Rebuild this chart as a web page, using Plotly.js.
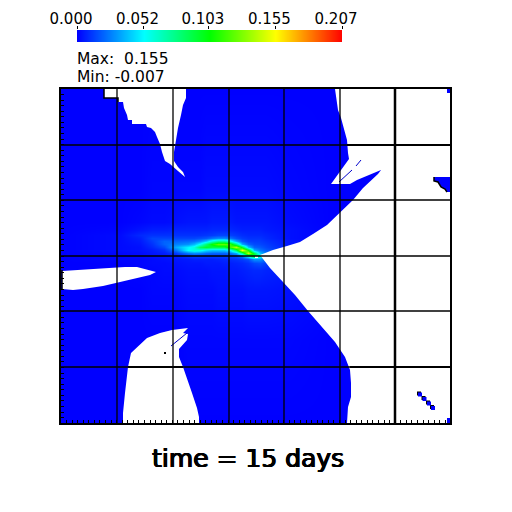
<!DOCTYPE html>
<html>
<head>
<meta charset="utf-8">
<script src="https://cdn.plot.ly/plotly-3.0.1.min.js"></script>
<style>html,body{margin:0;padding:0;background:#fff}</style>
</head>
<body>
<div id="chart" style="width:512px;height:512px"></div>
<script>
// field samples, axis units are picture pixels (no labels on the axes anyway)
const gridX = [61,120,140,152,164,176,188,194,200,206,212,218,224,230,236,242,248,254,260,266,290,330,450];
const gridY = [89,190,222,230,235,238,241,244,247,250,253,256,259,263,270,290,340,423];
const field = [
  [0,0,0,0,0,0,0,0,0,0,0,0,0,0,0,0,0,0,0,0,0,0,0],
  [0,0,0,.001,.001,.001,.001,.001,.001,.002,.002,.002,.002,.002,.002,.002,.002,.002,.002,.002,.001,0,0],
  [0,0,.001,.002,.002,.003,.004,.004,.004,.004,.005,.005,.005,.005,.004,.004,.004,.004,.004,.004,.002,0,0],
  [0,.001,.004,.006,.006,.007,.007,.007,.007,.007,.008,.008,.008,.008,.007,.006,.006,.006,.006,.005,.003,0,0],
  [0,.002,.008,.01,.01,.01,.01,.01,.01,.011,.012,.014,.014,.013,.011,.009,.008,.008,.008,.007,.003,0,0],
  [0,.002,.006,.014,.014,.014,.014,.014,.016,.018,.024,.028,.028,.024,.016,.012,.01,.01,.01,.008,.003,0,0],
  [0,.002,.005,.012,.02,.02,.022,.024,.03,.042,.062,.075,.075,.058,.035,.018,.013,.012,.012,.01,.004,0,0],
  [0,.002,.004,.01,.02,.026,.03,.038,.055,.08,.105,.122,.122,.115,.08,.035,.02,.015,.014,.012,.004,0,0],
  [0,.002,.003,.008,.015,.035,.05,.058,.085,.095,.09,.09,.09,.115,.14,.095,.04,.02,.018,.014,.005,0,0],
  [0,.002,.003,.005,.009,.024,.052,.058,.055,.045,.04,.04,.04,.05,.085,.155,.105,.036,.024,.018,.006,.001,0],
  [0,.001,.002,.004,.006,.012,.024,.028,.026,.022,.02,.02,.02,.024,.034,.075,.145,.09,.04,.024,.007,.001,0],
  [0,.001,.002,.003,.004,.006,.01,.012,.012,.012,.012,.012,.012,.014,.016,.024,.055,.1,.06,.03,.008,.001,0],
  [0,.001,.001,.002,.003,.004,.005,.006,.006,.006,.006,.007,.008,.009,.01,.012,.016,.03,.03,.02,.007,.001,0],
  [0,0,.001,.002,.002,.003,.004,.004,.004,.005,.005,.005,.006,.006,.007,.008,.01,.014,.016,.012,.006,.001,0],
  [0,0,.001,.001,.002,.002,.003,.003,.003,.003,.004,.004,.004,.005,.005,.006,.007,.008,.008,.007,.005,.001,0],
  [0,0,0,.001,.001,.001,.002,.002,.002,.002,.002,.003,.003,.003,.003,.003,.004,.004,.004,.004,.003,.001,0],
  [0,0,0,0,0,0,.001,.001,.001,.001,.001,.001,.001,.001,.001,.001,.001,.001,.001,.001,.001,0,0],
  [0,0,0,0,0,0,0,0,0,0,0,0,0,0,0,0,0,0,0,0,0,0,0]
];

// regions with no data, left white
const notchX = [104,104,118,118,123,124,127,128,132,132,146,147,151,155,157,160,162,165,170,173,178,185,183,178,174,174,176,178,181,183,186,186];
const notchY = [89,98,98,102,102,108,115,120,120,124,124,127,128,132,137,144,152,161,164,167,171,177,172,167,161,152,140,128,115,105,98,89];
const rightX = [335,336,338,341,344,347,348,349,331,339,350,357,367,381,378,372,363,353,340,327,313,300,287,273,260,270,283,295,308,322,335,345,350,351,351,348,347,450,450];
const rightY = [89,98,110,118,128,140,153,159,184,184,184,180,176,170,174,180,188,200,212,225,234,242,246,250,255,268,282,295,311,327,342,357,370,383,397,407,423,423,89];
const lensX = [62,77,97,117,125,137,150,156,150,137,118,103,83,73,62];
const lensY = [271,270,269,267,267,267,270,272,275,278,282,286,289,290,289];
const birdX = [123,123,125,128,131,137,147,160,172,188,183,188,187,179,179,183,187,192,197,199,199];
const birdY = [423,413,393,367,353,347,338,333,330,328,333,334,340,349,357,367,378,393,408,417,423];
const speckX = [255,258,258,255];
const speckY = [256,256,258,258];
const holes = [[notchX,notchY],[rightX,rightY],[lensX,lensY],[birdX,birdY],[speckX,speckY]];

// small bits of data inside the empty part
const islandCornerX = [447,450,450,447];
const islandCornerY = [89,89,93,93];
const islandTriX = [434,450,450,447,445,441,438,434];
const islandTriY = [177,177,192,192,189,187,182,181];
const islandLowX = [447,450,450,447];
const islandLowY = [418,418,423,423];
const islands = [[islandCornerX,islandCornerY],[islandTriX,islandTriY],[islandLowX,islandLowY]];
const diagX = [420,424.5,429,433];
const diagY = [394.5,399,403.5,408];
const diagEdgeX = [419,423.5,428,432];
const diagEdgeY = [393.5,398,402.5,407];
const sliverAX = [339,352];
const sliverAY = [182,170];
const sliverBX = [356,361];
const sliverBY = [166,160];
const sliverCX = [171,187];
const sliverCY = [346,333];
const dotX = [165];
const dotY = [353];

// dark mesh edges along parts of the empty regions
const edgeNotchX = [104,104,118,118];
const edgeNotchY = [89,98,98,102];
const edgeLensX = [62,62];
const edgeLensY = [270,290];
const edgeTriX = [434,434,438,441,445,447];
const edgeTriY = [177,181,182,187,189,192];
const edges = [[edgeNotchX,edgeNotchY],[edgeLensX,edgeLensY],[edgeTriX,edgeTriY]];

const colLines = [117,173,229,284,340,395];
const rowLines = [145,200,256,311,367];
const thickCols = [395];
const heavyRows = [[145,160,175],[145,347,450],[367,128,183],[367,350,450]];

const barTicks = [0,0.052,0.103,0.155,0.207];
const barLabels = ['0.000','0.052','0.103','0.155','0.207'];
const barLevels = [0,1];

const rainbow = [[0,'#0000ff'],[0.25,'#00ffff'],[0.5,'#00ff00'],[0.75,'#ffff00'],[1,'#ff0000']];

const traces = [{
  type: 'heatmap', x: gridX, y: gridY, z: field, zsmooth: 'best', zmin: 0, zmax: 0.207,
  hoverinfo: 'skip', colorscale: rainbow, showscale: false
}, {
  type: 'heatmap', x: barTicks, y: barLevels, z: [barTicks, barTicks], zsmooth: 'best', zmin: 0, zmax: 0.207,
  xaxis: 'x2', yaxis: 'y2', hoverinfo: 'skip', colorscale: rainbow, showscale: false
}];
holes.forEach(h => traces.push({
  type: 'scatter', mode: 'lines', x: h[0], y: h[1], fill: 'toself', fillcolor: '#fff',
  line: {width: 0}, hoverinfo: 'skip', showlegend: false
}));
islands.forEach(h => traces.push({
  type: 'scatter', mode: 'lines', x: h[0], y: h[1], fill: 'toself', fillcolor: '#0000ff',
  line: {width: 0}, hoverinfo: 'skip', showlegend: false
}));
edges.forEach(h => traces.push({
  type: 'scatter', mode: 'lines', x: h[0], y: h[1], hoverinfo: 'skip', showlegend: false,
  line: {color: '#000', width: 1.5}
}));
traces.push({type:'scatter', mode:'markers', x: diagEdgeX, y: diagEdgeY, hoverinfo:'skip', showlegend:false,
  marker:{symbol:'square', size:4, color:'#000'}});
traces.push({type:'scatter', mode:'markers', x: diagX, y: diagY, hoverinfo:'skip', showlegend:false,
  marker:{symbol:'square', size:4, color:'#0000ff'}});
traces.push({type:'scatter', mode:'markers', x: dotX, y: dotY, hoverinfo:'skip', showlegend:false,
  marker:{symbol:'square', size:2, color:'#000'}});
[[sliverAX,sliverAY],[sliverBX,sliverBY],[sliverCX,sliverCY]].forEach(s => traces.push({
  type:'scatter', mode:'lines', x:s[0], y:s[1], hoverinfo:'skip', showlegend:false,
  line:{color:'#0000cc', width:1}
}));

const shapes = [];
colLines.forEach(v => shapes.push({type:'line', xref:'x', yref:'y', x0:v, x1:v, y0:89, y1:423,
  line:{color:'#000', width: thickCols.includes(v) ? 2.5 : 1.3}}));
rowLines.forEach(v => shapes.push({type:'line', xref:'x', yref:'y', x0:61, x1:450, y0:v, y1:v,
  line:{color:'#000', width: 1.3}}));
heavyRows.forEach(r => shapes.push({type:'line', xref:'x', yref:'y', x0:r[1], x1:r[2], y0:r[0], y1:r[0],
  line:{color:'#000', width: 2}}));

const axisBase = {showgrid:false, zeroline:false, showticklabels:false, mirror:true, showline:true,
  linecolor:'#000', linewidth:2, ticks:'inside', ticklen:3, tickcolor:'#000', tickwidth:1, layer:'above traces'};

Plotly.newPlot('chart', traces, {
  width: 512, height: 512, showlegend: false,
  paper_bgcolor: '#fff', plot_bgcolor: '#fff',
  margin: {l: 0, r: 0, t: 0, b: 0},
  xaxis: Object.assign({}, axisBase, {domain:[61/512,450/512], range:[61,450], tick0:61, dtick:5.57}),
  yaxis: Object.assign({}, axisBase, {domain:[1-423/512,1-89/512], range:[423,89], tick0:89, dtick:5.57}),
  xaxis2: {domain:[77/512,342/512], range:[0,0.207], anchor:'y2', side:'top', showgrid:false, zeroline:false,
    tickmode:'array', tickvals:barTicks, ticktext:barLabels, ticks:'outside', ticklen:3, tickcolor:'#000', tickwidth:1,
    ticklabelshift:-6, ticklabelstandoff:-4, tickangle:0, tickfont:{family:'DejaVu Sans', size:15, color:'#000'}},
  yaxis2: {domain:[1-42/512,1-30/512], range:[0,1], anchor:'x2', visible:false},
  shapes: shapes,
  annotations: [
    {xref:'paper', yref:'paper', x:77/512, y:1-59/512, xanchor:'left', yanchor:'middle', showarrow:false, xshift:-2,
      text:'Max:\u00a0\u00a00.155', font:{family:'DejaVu Sans', size:15.5, color:'#000'}},
    {xref:'paper', yref:'paper', x:77/512, y:1-77/512, xanchor:'left', yanchor:'middle', showarrow:false, xshift:-2,
      text:'Min: -0.007', font:{family:'DejaVu Sans', size:15.5, color:'#000'}},
    {xref:'paper', yref:'paper', x:248/512, y:1-458/512, xanchor:'center', yanchor:'middle', showarrow:false,
      text:'time = 15 days', font:{family:'DejaVu Sans', size:25, color:'#000',
        shadow:'0.8px 0 0 #000, -0.5px 0 0 #000, 0 0.4px 0 #000, 0 -0.4px 0 #000'}}
  ]
}, {displayModeBar: false, staticPlot: true});
</script>
</body>
</html>
